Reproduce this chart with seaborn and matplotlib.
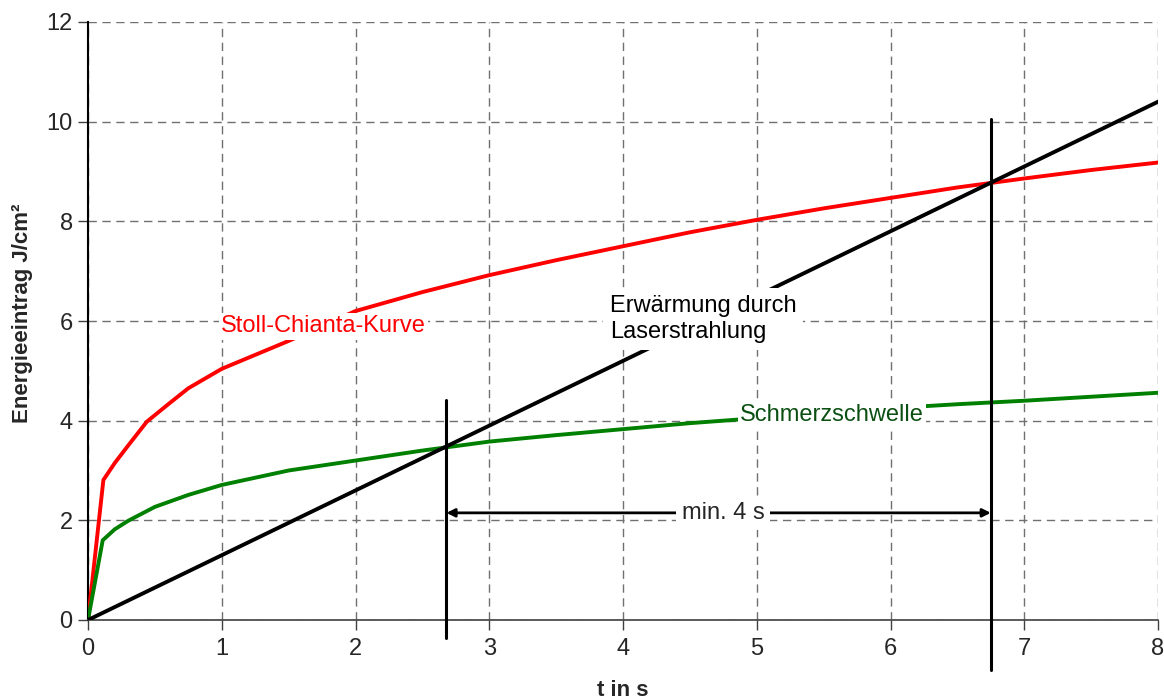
import numpy as np
import pandas as pd
import matplotlib
matplotlib.use("Agg")
import matplotlib.pyplot as plt
import seaborn as sns

# ---- data ----
t_stoll = [0, 0.115, 0.2, 0.3, 0.44, 0.6, 0.75, 1.0, 1.5, 2.0, 2.5, 3.0, 3.5, 4.0,
           4.5, 5.0, 5.5, 6.0, 6.5, 7.0, 7.5, 8.0]
e_stoll = [0, 2.81, 3.15, 3.5, 3.98, 4.33, 4.65, 5.04, 5.6, 6.2, 6.58, 6.92, 7.22,
           7.5, 7.78, 8.03, 8.26, 8.47, 8.68, 8.86, 9.03, 9.18]

t_schmerz = [0, 0.11, 0.2, 0.3, 0.5, 0.75, 1.0, 1.5, 2.0, 2.5, 3.0, 3.5, 4.0, 4.5,
             5.0, 5.5, 6.0, 6.5, 7.0, 7.5, 8.0]
e_schmerz = [0, 1.6, 1.82, 1.99, 2.27, 2.51, 2.71, 3.0, 3.2, 3.4, 3.58, 3.71,
             3.83, 3.95, 4.05, 4.15, 4.25, 4.33, 4.40, 4.48, 4.56]

t_laser = [0, 8.0]
e_laser = [0, 10.4]

marker_t = [2.68, 6.75]          # vertical markers (t in s)
marker_lo = [-0.36, -1.0]        # lower ends
marker_hi = [4.41, 10.05]        # upper ends
arrow_y = 2.15

x_ticks = [0, 1, 2, 3, 4, 5, 6, 7, 8]
y_ticks = [0, 2, 4, 6, 8, 10, 12]

# ---- styling ----
sns.set_style("white")
plt.rcParams['font.family'] = ['Liberation Sans', 'DejaVu Sans']

fig = plt.figure(figsize=(11.64, 7.0), dpi=100)
ax = fig.add_axes([88 / 1164, 80 / 700, (1158 - 88) / 1164, (620 - 22) / 700])

df_s = pd.DataFrame({"t": t_stoll, "e": e_stoll})
df_g = pd.DataFrame({"t": t_schmerz, "e": e_schmerz})
df_l = pd.DataFrame({"t": t_laser, "e": e_laser})

sns.lineplot(data=df_s, x="t", y="e", ax=ax, color="#ff0000", lw=2.8, zorder=3)
sns.lineplot(data=df_g, x="t", y="e", ax=ax, color="#008000", lw=2.8, zorder=3)
sns.lineplot(data=df_l, x="t", y="e", ax=ax, color="black", lw=2.8, zorder=3)

for xv, lo, hi in zip(marker_t, marker_lo, marker_hi):
    ax.plot([xv, xv], [lo, hi], color="black", lw=2.2, clip_on=False, zorder=4)

ax.annotate("", xy=(marker_t[0], arrow_y), xytext=(marker_t[1], arrow_y),
            arrowprops=dict(arrowstyle="<|-|>", color="black", lw=2.0,
                            mutation_scale=12, shrinkA=0, shrinkB=0), zorder=4)

box = dict(facecolor="white", edgecolor="none", pad=1.5)
ax.text(4.75, arrow_y, "min. 4 s", ha="center",
        va="center", fontsize=17, bbox=dict(facecolor="white", edgecolor="none", pad=4),
        zorder=5)
ax.text(1.76, 5.89, "Stoll-Chianta-Kurve", color="#ff0000", ha="center", va="center",
        fontsize=17, bbox=box, zorder=5)
ax.text(3.9, 6.04, "Erwärmung durch\nLaserstrahlung", color="black", ha="left",
        va="center", fontsize=17, linespacing=1.25,
        bbox=dict(facecolor="white", edgecolor="none", pad=5), zorder=5)
ax.text(5.56, 4.11, "Schmerzschwelle", color="#0b4f12", ha="center", va="center",
        fontsize=17, bbox=box, zorder=5)

ax.set_xlim(0, 8)
ax.set_ylim(0, 12)
ax.set_xticks(x_ticks)
ax.set_yticks(y_ticks)
ax.grid(True, color="#707070", linestyle=(0, (6, 4)), lw=1.0)
ax.set_axisbelow(True)

for s in ["top", "right"]:
    ax.spines[s].set_visible(False)
ax.spines["left"].set_color("black")
ax.spines["left"].set_linewidth(1.5)
ax.spines["bottom"].set_color("#404040")
ax.spines["bottom"].set_linewidth(1.2)

ax.tick_params(axis="both", direction="out", length=7, width=1, color="#404040",
               labelsize=17, bottom=True, left=True)
ax.tick_params(axis="x", pad=6)
ax.tick_params(axis="y", pad=4)

ax.set_xlabel("")
ax.set_ylabel("")
fig.text(623 / 1164, 1 - 690 / 700, "t in s", fontsize=16, fontweight="bold",
         ha="center", va="center")
fig.text(23 / 1164, 1 - 313 / 700, "Energieeintrag J/cm²", fontsize=16,
         fontweight="bold", ha="center", va="center", rotation=90)

fig.savefig("out.png", dpi=100, facecolor="white")
